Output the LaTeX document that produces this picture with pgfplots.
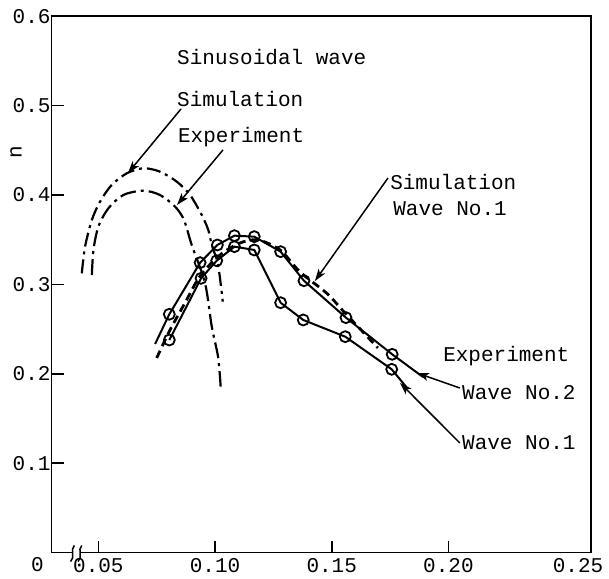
\documentclass[border=0pt]{standalone}
\usepackage{fontspec}
\setmainfont{Liberation Mono}
\usepackage{pgfplots}
\pgfplotsset{compat=1.18}
\usetikzlibrary{arrows.meta}
\begin{document}
\fontsize{21bp}{25bp}\selectfont
\begin{tikzpicture}
\begin{axis}[
  scale only axis, width=539.3bp, height=536.4bp,
  xmin=0.03, xmax=0.2611, ymin=0, ymax=0.6,
  axis line style={line width=1.6bp},
  tick align=inside, tick pos=left,
  major tick length=12bp,
  tick style={line width=1.6bp, black},
  xtick={0.05,0.10,0.15,0.20}, xticklabels={0.05,0.10,0.15,0.20},
  ytick={0.1,0.2,0.3,0.4,0.5,0.6}, yticklabels={0.1,0.2,0.3,0.4,0.5,0.6},
  extra x ticks={0.25}, extra x tick labels={0.25},
  extra x tick style={major tick length=0pt, xticklabel style={xshift=13bp}},
  xticklabel style={inner sep=0pt, yshift=-6bp},
  yticklabel style={inner sep=0pt, xshift=-1bp},
  clip=false,
]
\coordinate (LL) at (rel axis cs:0,0);
\coordinate (UR) at (rel axis cs:1,1);
% Simulation, sinusoidal wave (outer)
\addplot[line width=2.2bp, dash pattern=on 14bp off 5bp on 3bp off 5bp, smooth, tension=0.5] coordinates {
(0.0429,0.3124) (0.0443,0.3422) (0.0472,0.3720) (0.0507,0.3925) (0.0557,0.4112)
(0.0622,0.4243) (0.0693,0.4299) (0.0764,0.4261) (0.0836,0.4149) (0.0893,0.4000)
(0.0943,0.3776) (0.0971,0.3609) (0.0986,0.3441) (0.1013,0.3217) (0.1033,0.2807)};
% Experiment, sinusoidal wave (inner)
\addplot[line width=2.2bp, dash pattern=on 16bp off 5bp on 3bp off 5bp, smooth, tension=0.5] coordinates {
(0.0472,0.3105) (0.0479,0.3385) (0.0500,0.3646) (0.0543,0.3851) (0.0607,0.4000)
(0.0693,0.4048) (0.0764,0.4000) (0.0829,0.3869) (0.0867,0.3720) (0.0900,0.3441)
(0.0957,0.3015) (0.0986,0.2527) (0.1013,0.2188) (0.1024,0.1856)};
% Simulation, Wave No.1
\addplot[line width=2.8bp, dash pattern=on 8bp off 5bp, smooth, tension=0.5] coordinates {
(0.0750,0.2177) (0.0807,0.2490) (0.0871,0.2792) (0.0936,0.3094) (0.1021,0.3329)
(0.1107,0.3463) (0.1184,0.3497) (0.1279,0.3385) (0.1364,0.3139) (0.1479,0.2900)
(0.1557,0.2680) (0.1698,0.2289)};
% Experiment, Wave No.2
\addplot[line width=2bp, mark=o, mark size=5.5bp, mark indices={2,...,10},
  mark options={solid, fill=white, line width=1.8bp}] coordinates {
(0.0743,0.2333) (0.0804,0.2666) (0.0936,0.3243) (0.1010,0.3441) (0.1083,0.3545)
(0.1168,0.3534) (0.1281,0.3366) (0.1381,0.3041) (0.1561,0.2628) (0.1759,0.2218)
(0.1891,0.1964)};
% Experiment, Wave No.1
\addplot[line width=2bp, mark=o, mark size=5.5bp, mark indices={1,...,9},
  mark options={solid, fill=white, line width=1.8bp}] coordinates {
(0.0804,0.2378) (0.0940,0.3068) (0.1007,0.3265) (0.1083,0.3422) (0.1168,0.3385)
(0.1281,0.2795) (0.1378,0.2602) (0.1558,0.2415) (0.1757,0.2050) (0.1823,0.1841)};
% annotations
\tikzset{ann/.style={anchor=base west, inner sep=0pt}, arr/.style={-{Stealth[length=12bp,width=8bp,inset=3bp]}, line width=1.5bp}}
\node[ann] at (axis cs:0.0837,0.5455) {Sinusoidal wave};
\node[ann] at (axis cs:0.0837,0.4995) {Simulation};
\node[ann] at (axis cs:0.0841,0.4592) {Experiment};
\node[ann] at (axis cs:0.1750,0.4056) {Simulation};
\node[ann] at (axis cs:0.1763,0.3776) {Wave No.1};
\node[ann] at (axis cs:0.1977,0.2132) {Experiment};
\node[ann] at (axis cs:0.2058,0.1707) {Wave No.2};
\node[ann] at (axis cs:0.2058,0.1148) {Wave No.1};
\draw[arr] (axis cs:0.0854,0.4962) -- (axis cs:0.0627,0.4246);
\draw[arr] (axis cs:0.1034,0.4504) -- (axis cs:0.0837,0.3888);
\draw[arr] (axis cs:0.1741,0.4190) -- (axis cs:0.1428,0.3038);
\draw[arr] (axis cs:0.2049,0.1841) -- (axis cs:0.1865,0.2009);
\draw[arr] (axis cs:0.2049,0.1226) -- (axis cs:0.1793,0.1897);
% axis labels
\node[rotate=90, inner sep=0pt] at (axis cs:0.0147,0.4481) {n};
\node[inner sep=0pt] at (axis cs:0.0239,-0.0139) {0};
% axis break
\fill[white] (axis cs:0.0386,-0.003) rectangle (axis cs:0.0426,0.003);
\draw[line width=1.5bp] (axis cs:0.0397,0.0080) .. controls (axis cs:0.0377,0.003) and (axis cs:0.0403,-0.005) .. (axis cs:0.0381,-0.0100);
\draw[line width=1.5bp] (axis cs:0.0429,0.0080) .. controls (axis cs:0.0409,0.003) and (axis cs:0.0435,-0.005) .. (axis cs:0.0413,-0.0100);
\end{axis}
\pgfresetboundingbox
\path[use as bounding box] ([shift={(-51.7bp,-26.4bp)}]LL) rectangle ([shift={(18bp,16.2bp)}]UR);
\end{tikzpicture}
\end{document}
